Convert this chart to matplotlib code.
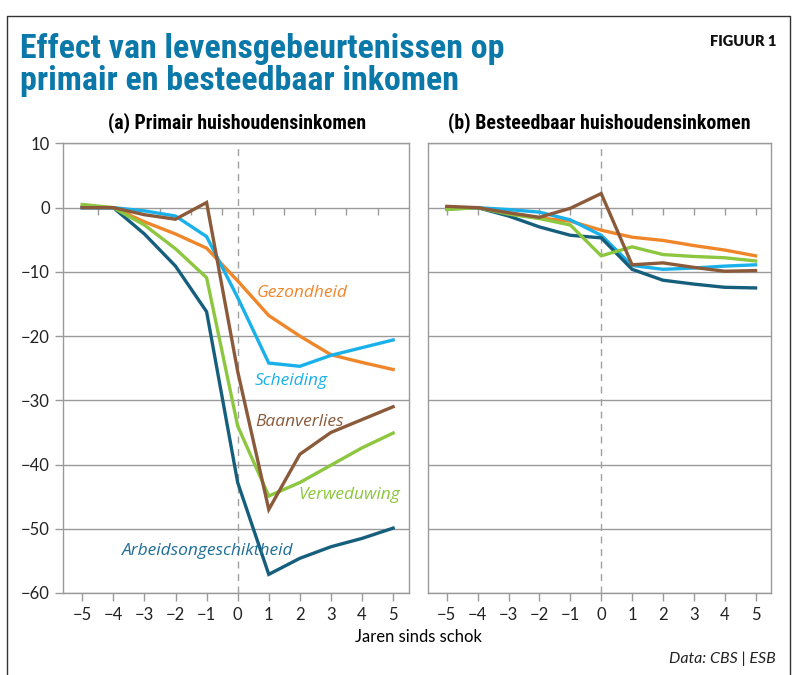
import matplotlib.pyplot as plt
from matplotlib.lines import Line2D

jaren = [-5, -4, -3, -2, -1, 0, 1, 2, 3, 4, 5]

# (a) primair huishoudensinkomen
a_gezondheid = [0.2, 0, -2.2, -4.1, -6.3, -11.4, -16.8, -20.0, -22.9, -24.1, -25.2]
a_scheiding = [0, 0, -0.5, -1.3, -4.5, -14.0, -24.2, -24.7, -23.0, -21.8, -20.6]
a_baanverlies = [0, 0, -1.1, -1.8, 0.8, -25.5, -47.0, -38.4, -35.0, -33.0, -31.0]
a_verweduwing = [0.5, 0, -2.7, -6.4, -10.9, -34.0, -44.9, -42.8, -40.1, -37.4, -35.1]
a_arbeid = [0, 0, -4.1, -9.1, -16.2, -42.8, -57.1, -54.6, -52.8, -51.5, -49.9]

# (b) besteedbaar huishoudensinkomen
b_gezondheid = [0, 0, -0.8, -1.6, -2.1, -3.5, -4.6, -5.1, -5.9, -6.6, -7.5]
b_scheiding = [-0.2, 0, -0.3, -0.7, -1.9, -4.3, -9.0, -9.6, -9.4, -9.1, -8.9]
b_baanverlies = [0.2, 0, -0.8, -1.5, -0.1, 2.2, -8.9, -8.6, -9.3, -9.9, -9.8]
b_verweduwing = [-0.3, 0, -1.0, -1.7, -2.7, -7.5, -6.1, -7.3, -7.6, -7.8, -8.3]
b_arbeid = [0, 0, -1.3, -3.0, -4.3, -4.7, -9.6, -11.3, -11.9, -12.4, -12.5]

yticks = [10, 0, -10, -20, -30, -40, -50, -60]

c_gez = '#f0862a'
c_sch = '#1ab0ea'
c_baan = '#8a5a3a'
c_verw = '#8dc63f'
c_arb = '#155f7c'
c_grid = '#9a9a9a'

plt.rcParams['font.family'] = ['Lato', 'DejaVu Sans']

fig = plt.figure(figsize=(7.92, 6.75), dpi=100)
ax1 = fig.add_axes([0.0795, 0.1215, 0.4365, 0.666])
ax2 = fig.add_axes([0.540, 0.1215, 0.4335, 0.666])


def opmaak(ax, zero_ticks):
    ax.set_xlim(-5.62, 5.5)
    ax.set_ylim(-60, 10)
    ax.set_yticks(yticks)
    ax.set_xticks(jaren)
    ax.set_xticklabels([f'{j}'.replace('-', '\u2212') for j in jaren])
    ax.grid(axis='y', color=c_grid, linewidth=1.0)
    ax.set_axisbelow(True)
    for s in ax.spines.values():
        s.set_color(c_grid)
        s.set_linewidth(1.0)
    ax.tick_params(axis='both', color=c_grid, length=6, width=1,
                   labelsize=12, labelcolor='#222222')
    ax.tick_params(axis='x', pad=4)
    ax.axvline(0, color='#a0a0a0', linewidth=1.0, linestyle=(0, (5, 4)), zorder=1)
    ax.vlines(zero_ticks, -1.1, 0, color=c_grid, linewidth=1.0, zorder=1)


opmaak(ax1, [-4.5, -3.5, -2.5, -1.5, -0.5, 0.5, 1.5, 2.5, 3.5, 4.5])
opmaak(ax2, jaren)
ax1.set_yticklabels([f'{v}'.replace('-', '\u2212') for v in yticks])
ax2.tick_params(axis='y', labelleft=False, left=False)

lw = 2.4
for ax, reeksen in [
    (ax1, [a_gezondheid, a_scheiding, a_arbeid, a_verweduwing, a_baanverlies]),
    (ax2, [b_gezondheid, b_scheiding, b_arbeid, b_verweduwing, b_baanverlies]),
]:
    kleuren = [c_gez, c_sch, c_arb, c_verw, c_baan]
    for waarden, kleur in zip(reeksen, kleuren):
        ax.plot(jaren, waarden, color=kleur, linewidth=lw, solid_joinstyle='miter', zorder=3)

# labels in panel (a)
lab = dict(fontsize=12.5, style='italic', family=['Open Sans', 'DejaVu Sans'])
ax1.text(0.6, -13.9, 'Gezondheid', color=c_gez, **lab)
ax1.text(0.55, -27.6, 'Scheiding', color=c_sch, **lab)
ax1.text(0.55, -34.0, 'Baanverlies', color=c_baan, **lab)
ax1.text(1.95, -45.4, 'Verweduwing', color=c_verw, **lab)
ax1.text(-3.72, -54.1, 'Arbeidsongeschiktheid', color='#1f6e96', **lab)

# titels
smal = ['Liberation Sans Narrow', 'Roboto Condensed', 'Open Sans Condensed', 'Lato', 'DejaVu Sans']
t1 = fig.text(0.025, 0.928, 'Effect van levensgebeurtenissen op', fontsize=25,
              fontweight='heavy', color='#0a78a8', family=smal, va='center')
t2 = fig.text(0.025, 0.880, 'primair en besteedbaar inkomen', fontsize=25,
              fontweight='heavy', color='#0a78a8', family=smal, va='center')
fig.text(0.98, 0.938, 'FIGUUR 1', fontsize=10.5, fontweight='heavy',
         ha='right', va='center', color='#111111')
sa = fig.text(0.299, 0.818, '(a) Primair huishoudensinkomen', fontsize=12.5,
              fontweight='bold', ha='center', va='center', family=smal)
sb = fig.text(0.757, 0.818, '(b) Besteedbaar huishoudensinkomen', fontsize=12.5,
              fontweight='bold', ha='center', va='center', family=smal)
fig.text(0.528, 0.056, 'Jaren sinds schok', fontsize=12, ha='center', va='center')
fig.text(0.98, 0.024, 'Data: CBS | ESB', fontsize=11.5, style='italic',
         ha='right', va='center', color='#222222')

# breedte van de titels afstemmen op het voorbeeld
renderer = fig.canvas.get_renderer()
for t, breedte in [(t1, 485), (sa, 259), (sb, 301)]:
    w = t.get_window_extent(renderer).width
    t.set_fontsize(t.get_fontsize() * breedte / w)
t2.set_fontsize(t1.get_fontsize())

# kader
fig.add_artist(Line2D([0.009, 0.009, 0.997, 0.997], [0.0, 0.976, 0.976, 0.0],
                      transform=fig.transFigure, color='#333333', linewidth=1.0))

fig.savefig('out.png', dpi=100)
